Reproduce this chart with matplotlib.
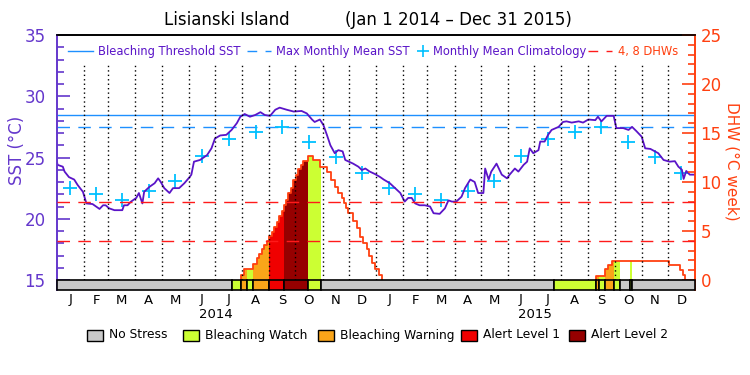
import numpy as np
import pandas as pd
import matplotlib
matplotlib.use('Agg')
import matplotlib.pyplot as plt
from matplotlib.lines import Line2D
from matplotlib.patches import Rectangle

plt.rcParams['lines.scale_dashes'] = False
plt.rcParams['font.family'] = ['DejaVu Sans']

# ---------------- data ----------------
start_date = '2014-01-01'
end_date = '2016-01-01'

# SST (days since 2014-01-01, deg C)
sst_day = [0, 1, 7, 9, 14, 20, 24, 30, 34, 41, 45, 49, 53, 56, 60, 66, 75, 77, 81, 85,
           91, 94, 98, 100, 106, 112, 116, 119, 123, 129, 133, 140, 146, 152, 154, 157, 164,
           172, 177, 181, 187, 194, 200, 206, 210, 215, 221, 227, 233, 238, 244, 250, 255,
           263, 271, 280, 286, 292, 295, 301, 305, 309, 313, 318, 322, 327, 330, 339, 345,
           349, 353, 358, 364, 370, 374, 381, 387, 393, 398, 402, 406, 410, 415, 421, 427,
           431, 438, 444, 448, 452, 457, 463, 467, 473, 478, 482, 488, 490, 494, 497, 503,
           509, 515, 518, 524, 528, 534, 538, 541, 545, 551, 553, 558, 562, 566, 574, 579,
           583, 589, 597, 602, 608, 616, 619, 623, 629, 637, 640, 648, 654, 658, 663, 669,
           673, 679, 684, 688, 694, 701, 707, 711, 715, 717, 720, 724, 729]
sst_val = [24.75, 24.4, 24.25, 23.85, 23.4, 23.2, 22.75, 22.2, 21.25, 21.2, 21.0, 20.8,
           21.1, 21.1, 20.85, 20.7, 20.7, 21.1, 21.1, 21.4, 21.7, 22.1, 21.25, 22.2, 22.6,
           22.9, 23.3, 23.0, 22.5, 22.1, 22.5, 22.5, 22.9, 23.4, 23.6, 24.66, 24.8, 25.2,
           25.75, 26.55, 26.8, 26.85, 27.25, 27.8, 28.33, 28.55, 28.33, 28.47, 28.7, 28.47,
           28.4, 28.9, 29.07, 28.9, 28.75, 28.8, 28.6, 28.1, 27.9, 28.1, 27.65, 26.85, 26.0,
           25.35, 25.6, 25.5, 24.8, 24.5, 24.25, 23.98, 24.1, 23.85, 23.65, 23.4, 23.2, 22.9,
           22.5, 22.1, 21.4, 21.7, 21.7, 21.25, 21.1, 21.1, 21.0, 20.45, 20.4, 20.85, 21.5,
           21.4, 21.4, 21.8, 22.5, 23.2, 23.0, 22.1, 22.1, 24.1, 23.2, 23.85, 24.5, 23.6,
           23.3, 23.6, 24.1, 23.85, 24.4, 24.66, 25.75, 25.35, 25.6, 26.3, 26.3, 26.85,
           27.25, 27.5, 27.9, 27.95, 27.85, 27.95, 27.85, 28.1, 28.05, 28.33, 27.95, 28.4,
           28.4, 27.4, 27.4, 27.25, 27.5, 27.15, 26.7, 25.75, 25.7, 25.5, 25.35, 24.8, 24.66,
           24.7, 24.25, 24.0, 23.25, 23.9, 23.6, 23.6]

# Monthly mean climatology (Jan..Dec)
clim_val = [22.55, 22.0, 21.55, 22.3, 23.1, 25.1, 26.5, 27.05, 27.5, 26.3, 25.05, 23.7]
bleach_threshold = 28.5
mmm_sst = 27.5
dhw_ref = [4, 8]

# Degree heating weeks (days since 2014-01-01, deg C week)
dhw14_day = [210.8, 214.2, 224.9, 229.4, 231.7, 234.5, 237.4, 240.2, 243.2, 245.9, 248.5,
             251.6, 254.2, 257.3, 260.0, 262.2, 264.9, 267.6, 270.6, 273.3, 276.3, 279.1,
             281.7, 287.1, 293.5, 301.1, 308.8, 313.7, 318.3, 322.1, 326.0, 328.6, 330.9,
             333.5, 339.2, 343.1, 346.9, 350.7, 354.5, 357.5, 360.3, 364.0, 368.9, 372.4]
dhw14_val = [0.5, 1.12, 1.63, 2.2, 2.65, 3.13, 3.57, 4.0, 4.49, 4.93, 5.44, 5.95, 6.53,
             7.04, 7.65, 8.16, 8.84, 9.35, 10.2, 10.7, 11.3, 11.7, 12.1, 12.65, 12.24,
             11.56, 11.05, 10.2, 9.52, 8.84, 8.33, 7.82, 7.31, 6.8, 6.05, 5.27, 4.35, 3.74,
             3.13, 2.45, 1.7, 1.12, 0.5, 0.0]
dhw15_day = [616.6, 627.1, 630.9, 634.8, 700.6, 712.9, 715.9, 718.6]
dhw15_val = [0.44, 1.09, 1.53, 1.9, 1.53, 1.02, 0.51, 0.0]

# Stress level periods (0 none ... 4 alert 2)
status_edges = [0, 200.8, 210.8, 217.3, 224.9, 243.2, 260.3, 287.8, 302.0, 568.9, 616.6,
                620.4, 627.1, 637.0, 644.2, 655.7, 658.3, 730]
status_level = [0, 1, 2, 1, 2, 3, 4, 1, 0, 1, 2, 1, 2, 1, 0, 1, 0]

month_letters = ['J', 'F', 'M', 'A', 'M', 'J', 'J', 'A', 'S', 'O', 'N', 'D']
year_labels = ['2014', '2015']
status_names = ['No Stress', 'Bleaching Watch', 'Bleaching Warning', 'Alert Level 1',
                'Alert Level 2']

# ---------------- style ----------------
status_colors = ['#c8c8c8', '#ccff33', '#faa519', '#f00000', '#960000']
purple = '#5a14c8'
axpurple = '#6437cc'
blue = '#1e90ff'
cyan = '#00c0ff'
dhwcol = '#ff4010'
red = '#ff1a1a'

W, H = 750, 375
fig = plt.figure(figsize=(7.5, 3.75), dpi=100)
L, R, T, B = 56.7, 695, 35, 290
ax = fig.add_axes([L / W, 1 - B / H, (R - L) / W, (B - T) / H])
ax2 = ax.twinx()

sst_top = 35.0
px_per_deg = 12.25
sst_bot = sst_top - (B - T) / px_per_deg
dhw_bot = (sst_bot - 15) * 1.25
ax.set_ylim(sst_bot, sst_top)
ax2.set_ylim(dhw_bot, 25)

t0 = pd.Timestamp(start_date)
mstarts = pd.date_range(start_date, end_date, freq='MS')
mdays = np.array([(d - t0).days for d in mstarts], dtype=float)
total = mdays[-1]
ax.set_xlim(0, total)
mids = (mdays[:-1] + mdays[1:]) / 2

# month dotted lines
for d in mdays[1:-1]:
    ax2.plot([d, d], [0, (32.7 - 15) * 1.25], color='black', lw=1.0,
             dashes=(1, 2.2), zorder=6)

# threshold lines
ax.axhline(bleach_threshold, color=blue, lw=1.0, zorder=3)
ax.axhline(mmm_sst, color=blue, lw=1.0, dashes=(9, 6), zorder=3)
for lv in dhw_ref:
    ax2.axhline(lv, color=red, lw=1.0, dashes=(9, 6), zorder=7)

# climatology crosses
clim_x = list(mids)
clim_y = clim_val * len(year_labels)
ax.plot(clim_x, clim_y, '+', color=cyan, ms=10, mew=1.3, zorder=4)

# SST line
ax.plot(sst_day, sst_val, color=purple, lw=1.3, zorder=5)


def dhw_at(days, vals, t):
    i = np.searchsorted(days, t, side='right') - 1
    if i < 0 or i >= len(days):
        return 0.0
    return vals[i]


series = [(np.array(dhw14_day), np.array(dhw14_val)),
          (np.array(dhw15_day), np.array(dhw15_val))]

# fills by status
for i, lv in enumerate(status_level):
    if lv == 0:
        continue
    s, e = status_edges[i], status_edges[i + 1]
    for days, vals in series:
        if e <= days[0] or s >= days[-1]:
            continue
        xs = [s] + [d for d in days if s < d < e] + [e]
        ys = [dhw_at(days, vals, x) for x in xs]
        ax2.fill_between(xs, 0, ys, step='post', color=status_colors[lv], lw=0, zorder=2)

# DHW lines
for days, vals in series:
    xs = np.concatenate([[days[0]], days])
    ys = np.concatenate([[0], vals])
    ax2.plot(xs, ys, drawstyle='steps-post', color=dhwcol, lw=1.3, zorder=5)

# status bar
for i, lv in enumerate(status_level):
    s, e = status_edges[i], status_edges[i + 1]
    ax2.add_patch(Rectangle((s, dhw_bot), e - s, -dhw_bot, facecolor=status_colors[lv],
                            edgecolor='black', lw=1.2, zorder=8, clip_on=False))

# axes styling
ax.set_xticks([])
ax2.set_xticks([])
ax.set_yticks([15, 20, 25, 30, 35])
ax.set_yticks(np.arange(15, 36, 1), minor=True)
ax2.set_yticks([0, 5, 10, 15, 20, 25])
ax2.set_yticks(np.arange(0, 26, 1), minor=True)
ax.tick_params(axis='y', which='major', direction='in', length=9.5, width=1.2,
               color=axpurple, labelcolor=axpurple, labelsize=12, pad=8)
ax.tick_params(axis='y', which='minor', direction='in', length=5, width=1.2, color=axpurple)
ax2.tick_params(axis='y', which='major', direction='in', length=9.5, width=1.2,
                color=dhwcol, labelcolor=dhwcol, labelsize=12, pad=4)
ax2.tick_params(axis='y', which='minor', direction='in', length=5, width=1.2, color=dhwcol)
for a in (ax, ax2):
    a.spines['top'].set_color('black')
    a.spines['bottom'].set_visible(False)
    a.spines['left'].set_color(axpurple)
    a.spines['right'].set_color(dhwcol)
    for sp in a.spines.values():
        sp.set_linewidth(1.2)

# month and year labels
xt = ax.get_xaxis_transform()
for m, x in zip(month_letters * len(year_labels), mids):
    ax.text(x, -10 / (B - T), m, transform=xt, ha='center', va='center', fontsize=9.5,
            color='black')
for k, yl in enumerate(year_labels):
    ax.text((mdays[12 * k] + mdays[12 * k + 12]) / 2, -25 / (B - T), yl, transform=xt,
            ha='center', va='center', fontsize=9.5, color='black')


def fx(px):
    return px / W


def fy(py):
    return 1 - py / H


# title
fig.text(fx(227), fy(20), 'Lisianski Island', ha='center', va='center', fontsize=12)
fig.text(fx(458), fy(20), '(Jan 1 2014 \u2013 Dec 31 2015)', ha='center', va='center',
         fontsize=12)

# axis labels
fig.text(fx(17), fy(150), 'SST (\u00b0C)', rotation=90, ha='center', va='center',
         fontsize=12, color=axpurple)
fig.text(fx(732), fy(161), 'DHW (\u00b0C week)', rotation=-90, ha='center', va='center',
         fontsize=11, color=dhwcol)

# top legend
ly = fy(51)
fig.add_artist(Line2D([fx(68), fx(93)], [ly, ly], color=blue, lw=1.0))
fig.text(fx(98), ly, 'Bleaching Threshold SST', ha='left', va='center', fontsize=8.3,
         color=purple)
fig.add_artist(Line2D([fx(247), fx(271)], [ly, ly], color=blue, lw=1.0, dashes=(7, 6)))
fig.text(fx(276), ly, 'Max Monthly Mean SST', ha='left', va='center', fontsize=8.3,
         color=purple)
fig.add_artist(Line2D([fx(423)], [ly], marker='+', color=cyan, ms=8, mew=1.2, ls='none'))
fig.text(fx(433), ly, 'Monthly Mean Climatology', ha='left', va='center', fontsize=8.3,
         color=purple)
fig.add_artist(Line2D([fx(588), fx(612)], [ly, ly], color=red, lw=1.0, dashes=(7, 6)))
fig.text(fx(618), ly, '4, 8 DHWs', ha='left', va='center', fontsize=8.3, color=dhwcol)

# bottom legend
box_x = [87, 183, 318, 461, 569]
by = 335
for name, col, bx in zip(status_names, status_colors, box_x):
    fig.add_artist(Rectangle((fx(bx), fy(by + 5.5)), 16 / W, 11 / H, facecolor=col,
                             edgecolor='black', lw=1.0, transform=fig.transFigure))
    fig.text(fx(bx + 22), fy(by), name, ha='left', va='center', fontsize=8.8,
             color='black')

fig.savefig('out.png', dpi=100, facecolor='white')
